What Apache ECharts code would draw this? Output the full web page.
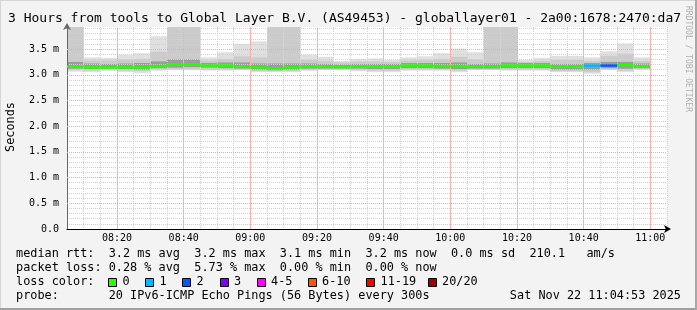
<!DOCTYPE html>
<html><head><meta charset="utf-8">
<script src="https://cdn.jsdelivr.net/npm/echarts@6/dist/echarts.min.js"></script>
<style>html,body{margin:0;padding:0;background:#f3f3f3}#c{width:697px;height:310px}</style>
</head><body><div id="c"></div>
<script>
// ---- data ----
const binStart = ['08:05','08:10','08:15','08:20','08:25','08:30','08:35','08:40','08:45','08:50','08:55','09:00','09:05','09:10','09:15','09:20','09:25','09:30','09:35','09:40','09:45','09:50','09:55','10:00','10:05','10:10','10:15','10:20','10:25','10:30','10:35','10:40','10:45','10:50','10:55'];
const rttMax = [4.0,3.34,3.33,3.39,3.42,3.75,4.0,4.0,3.34,3.44,3.60,3.65,4.0,4.0,3.39,3.35,3.27,3.31,3.32,3.29,3.34,3.36,3.42,3.51,3.44,4.0,4.0,3.29,3.33,3.37,3.37,3.34,3.46,3.61,3.34];
const rttHi2 = [4.0,3.28,3.28,3.30,3.31,3.45,4.0,4.0,3.28,3.31,3.36,3.34,4.0,4.0,3.29,3.27,3.24,3.26,3.26,3.25,3.28,3.29,3.31,3.35,3.30,4.0,4.0,3.25,3.27,3.29,3.29,3.27,3.37,3.41,3.27];
const rttHi3 = [3.25,3.22,3.21,3.22,3.23,3.26,3.30,3.30,3.23,3.24,3.24,3.22,3.22,3.22,3.22,3.21,3.20,3.21,3.21,3.21,3.23,3.23,3.23,3.24,3.21,3.22,3.24,3.23,3.23,3.21,3.21,3.23,3.25,3.25,3.22];
const rttMedian = [3.163,3.144,3.144,3.144,3.144,3.17,3.197,3.197,3.18,3.18,3.16,3.144,3.125,3.144,3.163,3.157,3.15,3.163,3.16,3.16,3.18,3.18,3.17,3.17,3.157,3.157,3.18,3.18,3.18,3.157,3.157,3.18,3.18,3.19,3.163];
const rttLo3 = [3.12,3.11,3.12,3.11,3.10,3.13,3.14,3.15,3.14,3.13,3.12,3.10,3.09,3.10,3.12,3.12,3.12,3.12,3.11,3.11,3.13,3.13,3.12,3.11,3.12,3.12,3.13,3.13,3.13,3.10,3.10,3.10,3.13,3.12,3.13];
const rttLo2 = [3.09,3.08,3.09,3.08,3.07,3.10,3.11,3.11,3.10,3.10,3.10,3.07,3.07,3.07,3.09,3.10,3.10,3.09,3.08,3.08,3.10,3.10,3.10,3.08,3.10,3.10,3.10,3.10,3.10,3.07,3.07,3.05,3.10,3.08,3.11];
const rttMin = [3.06,3.05,3.08,3.05,3.03,3.08,3.09,3.09,3.08,3.08,3.09,3.05,3.05,3.05,3.08,3.09,3.09,3.07,3.05,3.05,3.08,3.08,3.08,3.05,3.09,3.09,3.08,3.08,3.08,3.05,3.05,3.02,3.09,3.05,3.10];
const lossCount = [0,0,0,0,0,0,0,0,0,0,0,0,0,0,0,0,0,0,0,0,0,0,0,0,0,0,0,0,0,0,0,1,2,0,0];
const xMajorTicks = ['08:20','08:40','09:00','09:20','09:40','10:00','10:20','10:40','11:00'];
const yMajorTicks = [0.5,1.0,1.5,2.0,2.5,3.0,3.5];
const lossLegendLabels = ['0','1','2','3','4-5','6-10','11-19','20/20'];
const lossLegendColors = ['#26ff00','#00b8ff','#0059ff','#7e00ff','#ff00ff','#ff5500','#ff0000','#a10000'];
const lossUpper = [0,1,2,3,5,10,19,20];
const titleText = '3 Hours from tools to Global Layer B.V. (AS49453) - globallayer01 - 2a00:1678:2470:da7';
const statLines = [
  'median rtt:  3.2 ms avg  3.2 ms max  3.1 ms min  3.2 ms now  0.0 ms sd  210.1   am/s',
  'packet loss: 0.28 % avg  5.73 % max  0.00 % min  0.00 % now'
];
const probeText = 'probe:       20 IPv6-ICMP Echo Pings (56 Bytes) every 300s';
const dateText = 'Sat Nov 22 11:04:53 2025';

// ---- helpers ----
const toMin = s => { const p = s.split(':'); return (+p[0]) * 60 + (+p[1]); };
const fmtMin = m => String(Math.floor(m / 60)).padStart(2, '0') + ':' + String(m % 60).padStart(2, '0');
const STEP = 5;
const X_MIN = toMin(binStart[0]);
const X_MAX = toMin(binStart[binStart.length - 1]) + 2 * STEP;
const Y_MAX = 3.93;
const lossColor = n => { for (let i = 0; i < lossUpper.length; i++) if (n <= lossUpper[i]) return lossLegendColors[i]; return lossLegendColors[lossLegendColors.length - 1]; };

const smokeData = binStart.map((t, i) => [toMin(t), rttMax[i], rttHi2[i], rttHi3[i], rttMedian[i], rttLo3[i], rttLo2[i], rttMin[i], lossCount[i]]);

const G = { left: 67, top: 27, right: 30, bottom: 81 };
const MONO = '"DejaVu Sans Mono", monospace';
const SMALL = '11.85px ' + MONO;
const legendBoxX = [108, 145, 182, 219.5, 256.5, 307.5, 366, 427.5];

const chart = echarts.init(document.getElementById('c'), null, { renderer: 'canvas' });

const graphics = [
  { type: 'rect', z: -100, silent: true, shape: { x: G.left, y: G.top, width: 697 - G.left - G.right, height: 310 - G.top - G.bottom }, style: { fill: '#ffffff' } },
  { type: 'text', style: { text: titleText, x: 8, y: 19, font: '13px ' + MONO, fill: '#000', align: 'left', verticalAlign: 'middle' } },
  { type: 'text', x: 688, y: 59, rotation: -Math.PI / 2, style: { text: 'RRDTOOL / TOBI OETIKER', x: 0, y: 0, font: '8px ' + MONO, fill: '#b0b0b0', align: 'center', verticalAlign: 'middle' } },
  { type: 'text', x: 11, y: 127, rotation: Math.PI / 2, style: { text: 'Seconds', x: 0, y: 0, font: SMALL, fill: '#000', align: 'center', verticalAlign: 'middle' } },
  { type: 'text', style: { text: statLines[0], x: 16, y: 254, font: SMALL, fill: '#000', align: 'left', verticalAlign: 'middle' } },
  { type: 'text', style: { text: statLines[1], x: 16, y: 268, font: SMALL, fill: '#000', align: 'left', verticalAlign: 'middle' } },
  { type: 'text', style: { text: 'loss color:', x: 16, y: 282, font: SMALL, fill: '#000', align: 'left', verticalAlign: 'middle' } },
  { type: 'text', style: { text: probeText, x: 16, y: 296, font: SMALL, fill: '#000', align: 'left', verticalAlign: 'middle' } },
  { type: 'text', style: { text: dateText, x: 681, y: 296, font: SMALL, fill: '#000', align: 'right', verticalAlign: 'middle' } },
  // frame
  { type: 'line', shape: { x1: 0, y1: 0.5, x2: 697, y2: 0.5 }, style: { stroke: '#d6d6d6', lineWidth: 1 } },
  { type: 'line', shape: { x1: 0.5, y1: 0, x2: 0.5, y2: 310 }, style: { stroke: '#d6d6d6', lineWidth: 1 } },
  { type: 'line', shape: { x1: 0, y1: 309, x2: 697, y2: 309 }, style: { stroke: '#a0a0a0', lineWidth: 2 } },
  { type: 'line', shape: { x1: 696, y1: 0, x2: 696, y2: 310 }, style: { stroke: '#a8a8a8', lineWidth: 2 } }
];
// loss color legend
lossLegendLabels.forEach((lab, i) => {
  const bx = legendBoxX[i];
  graphics.push({ type: 'rect', shape: { x: Math.round(bx) + 0.5, y: 278.5, width: 8, height: 8 }, style: { fill: lossLegendColors[i], stroke: '#000', lineWidth: 1 } });
  graphics.push({ type: 'text', style: { text: lab, x: bx + 14.5, y: 282, font: SMALL, fill: '#000', align: 'left', verticalAlign: 'middle' } });
});

const option = {
  backgroundColor: '#f3f3f3',
  animation: false,
  grid: { left: G.left, top: G.top, right: G.right, bottom: G.bottom, containLabel: false, outerBoundsMode: 'none' },
  xAxis: {
    type: 'value', min: X_MIN, max: X_MAX, interval: STEP,
    axisLine: { show: true, symbol: ['none', 'arrow'], symbolSize: [6, 7], symbolOffset: [0, 4], lineStyle: { color: '#000', width: 1 } },
    axisTick: { show: false },
    axisLabel: { margin: 4, color: '#000', fontFamily: MONO, fontSize: 10,
      formatter: v => (v % 20 === 0 ? fmtMin(v) : '') },
    splitLine: { show: true, showMinLine: false, lineStyle: { color: '#d0d0d0', type: [1, 1], width: 1 } }
  },
  yAxis: {
    type: 'value', min: 0, max: Y_MAX, interval: 0.1,
    axisLine: { show: true, symbol: ['none', 'arrow'], symbolSize: [6, 7], symbolOffset: [0, 4], lineStyle: { color: '#666', width: 1 } },
    axisTick: { show: false },
    axisLabel: { margin: 8, color: '#000', fontFamily: MONO, fontSize: 10,
      formatter: v => { const k = v * 2; if (Math.abs(k - Math.round(k)) > 1e-6) return ''; return v < 1e-9 ? '0.0' : v.toFixed(1) + ' m'; } },
    splitLine: { show: true, showMinLine: false, showMaxLine: false, lineStyle: { color: '#d0d0d0', type: [1, 1], width: 1 } }
  },
  series: [
    {
      type: 'custom', name: 'smoke', z: -1, silent: true,
      data: smokeData,
      renderItem: (params, api) => {
        const t = api.value(0);
        const x0 = api.coord([t, 0])[0], x1 = api.coord([t + STEP, 0])[0];
        const Y = v => api.coord([t, Math.min(v, Y_MAX)])[1];
        const band = (lo, hi, fill) => ({ type: 'rect', shape: { x: x0, y: Y(hi), width: x1 - x0, height: Y(lo) - Y(hi) }, style: { fill } });
        return { type: 'group', children: [
          band(api.value(7), api.value(1), '#e0e0e0'),
          band(api.value(6), api.value(2), '#cbcbcb'),
          band(api.value(5), api.value(3), '#9c9c9c')
        ] };
      }
    },
    {
      type: 'line', name: 'major grid', data: [], silent: true,
      markLine: {
        silent: true, symbol: 'none', label: { show: false }, animation: false,
        lineStyle: { color: '#f3a6a6', type: [1, 1], width: 1 },
        data: xMajorTicks.map(s => ({ xAxis: toMin(s) })).concat(yMajorTicks.map(v => ({ yAxis: v })))
      }
    },
    {
      type: 'custom', name: 'median', z: 8, silent: true,
      data: smokeData,
      renderItem: (params, api) => {
        const t = api.value(0);
        const x0 = api.coord([t, 0])[0], x1 = api.coord([t + STEP, 0])[0];
        const y = api.coord([t, api.value(4)])[1];
        return { type: 'rect', shape: { x: x0, y: y - 1.25, width: x1 - x0, height: 2.5 }, style: { fill: lossColor(api.value(8)) } };
      }
    }
  ],
  graphic: graphics
};
chart.setOption(option);
</script>
</body></html>
